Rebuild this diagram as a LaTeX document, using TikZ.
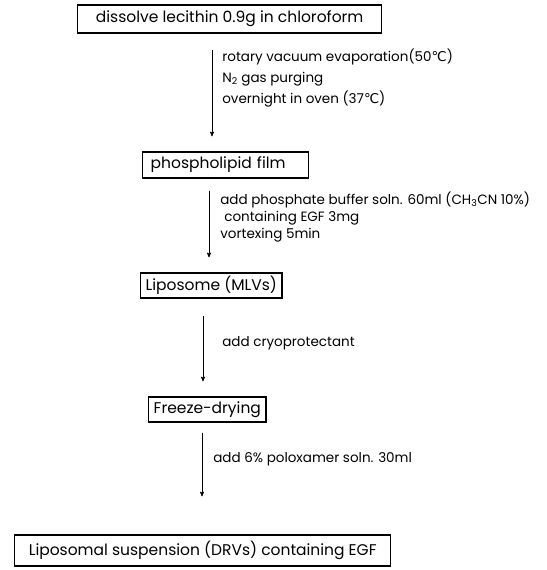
\documentclass[tikz,border=0pt]{standalone}
\usepackage{fontspec}
\setmainfont{Poppins}
\newfontfamily\symfont{DejaVu Sans}
\usetikzlibrary{arrows}

\newcommand{\degC}{{\symfont ℃}}

\begin{document}
\begin{tikzpicture}[x=1pt, y=-1pt, >=stealth', line width=0.7pt,
    stepbox/.style={draw, line width=1.4pt, anchor=west, inner xsep=5pt, inner ysep=0pt, font=\fontsize{15.5}{17}\selectfont},
    steptext/.style={anchor=west, align=left, inner sep=0pt, font=\fontsize{13.5}{21}\selectfont}]
    \useasboundingbox (0,0) rectangle (546,570);

    % Nodes {boxes}
    \node [stepbox, minimum width=304pt, minimum height=28pt] (dissolve) at (77,19)    {dissolve lecithin 0.9g in chloroform};
    \node [stepbox, text width=156pt, align=left, minimum height=26pt] (film) at (142,165) {\hspace{3pt}phospholipid film};
    \node [stepbox, minimum width=140pt, minimum height=25pt] (mlv)      at (140,285.5) {Liposome (MLVs)};
    \node [stepbox, minimum width=114pt, minimum height=25pt] (freeze)   at (148,409.5) {Freeze-drying};
    \node [stepbox, minimum width=376pt, minimum height=31pt] (drv)      at (14,550.5)  {Liposomal suspension (DRVs) containing EGF};

    % Columns of the arrows
    \coordinate (c1) at (212,0);
    \coordinate (c2) at (209,0);
    \coordinate (c3) at (203,0);
    \coordinate (c4) at (202,0);

    % Paths
    \draw [->, shorten <=16pt, shorten >=15pt] (dissolve.south -| c1) -- (film.north -| c1);
    \draw [->, shorten <=12pt, shorten >=15pt] (film.south -| c2)     -- (mlv.north -| c2);
    \draw [->, shorten <=17pt, shorten >=15pt] (mlv.south -| c3)      -- (freeze.north -| c3);
    \draw [->, shorten <=10pt, shorten >=38pt] (freeze.south -| c4)   -- (drv.north -| c4);

    % Labels
    \node [steptext] (lab1) at (222,78)  {rotary vacuum evaporation(50\degC)\\N\textsubscript{2} gas purging\\overnight in oven (37\degC)};
    \node [steptext, font=\fontsize{13.5}{17}\selectfont] (lab2) at (220,217) {add phosphate buffer soln. 60ml (CH\textsubscript{3}CN 10\%)\\\hspace{4pt}containing EGF 3mg\\vortexing 5min};
    \node [steptext] (lab3) at (222,343) {add cryoprotectant};
    \node [steptext] (lab4) at (213,459) {add 6\% poloxamer soln. 30ml};
\end{tikzpicture}
\end{document}
